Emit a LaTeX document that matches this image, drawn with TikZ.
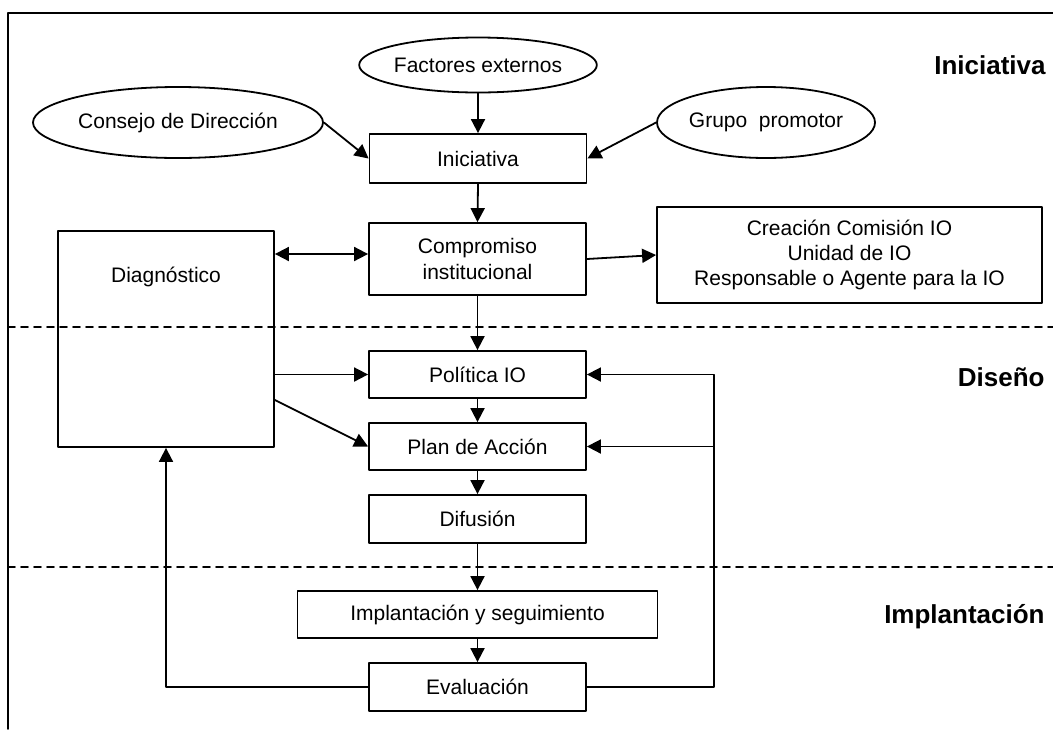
\documentclass[tikz,border=0pt]{standalone}
\usepackage{fontspec}
\setmainfont{Liberation Sans}
\usetikzlibrary{arrows.meta,shapes.geometric}

\begin{document}
\begin{tikzpicture}[line cap=round,line join=round,>={Triangle[length=7pt,width=7pt]},x=0.5pt,y=-0.5pt,
	every node/.style={font=\fontsize{10.5}{12.6}\selectfont},
	caja/.style={draw,line width=0.9pt,rectangle,inner sep=0pt,minimum width=108.5pt,minimum height=24pt,align=center},
	elipse/.style={draw,line width=0.9pt,ellipse,inner sep=0pt},
	fase/.style={anchor=east,inner sep=0pt,font=\fontsize{13}{15}\selectfont\bfseries},
	flecha/.style={->,line width=0.9pt}]
		\useasboundingbox (0,0) rectangle (1053,729);
		% marco y separacion de fases
		\draw [line width=0.9pt] (1053,13)-- (8,13)-- (8,729);
		\draw [line width=0.8pt,dash pattern=on 3.5pt off 3pt] (8,327)-- (1053,327);
		\draw [line width=0.8pt,dash pattern=on 3.5pt off 3pt] (8,567)-- (1053,567);
		% fases
		\node[fase] (tIni) at (1046,65) {Iniciativa};
		\node[fase] (tDis) at (1045,377) {Diseño};
		\node[fase] (tImp) at (1045,617) {Implantación};
		% origen de la iniciativa
		\node[elipse,minimum width=109pt,minimum height=27.5pt] (fact) at (478,65) {Factores externos};
		\node[elipse,minimum width=145pt,minimum height=35.5pt] (cons) at (178,122.5) {Consejo de Dirección};
		\node[elipse,minimum width=109pt,minimum height=35.5pt] (grup) at (766,122.5) {Grupo\ \ promotor};
		% columna central
		\node[caja,minimum height=24.5pt] (inic) at (478,158.5) {Iniciativa};
		\node[caja,minimum height=36pt] (comp) at (477.5,259) {Compromiso\\institucional};
		\node[caja,minimum width=192.5pt,minimum height=48pt] (crea) at (849.5,255) {Creación Comisión IO\\Unidad de IO\\Responsable o Agente para la IO};
		\node[caja,minimum width=108pt,minimum height=108pt,label={[anchor=center,yshift=-23.5pt]north:Diagnóstico}] (diag) at (166,339) {};
		\node[caja,minimum height=23.5pt] (pol) at (477.5,374.5) {Política IO};
		\node[caja,minimum height=23.5pt] (plan) at (477.5,446.5) {Plan de Acción};
		\node[caja] (dif) at (477.5,519) {Difusión};
		\node[caja,minimum width=180pt,minimum height=23.5pt] (impl) at (477.5,614.5) {Implantación y seguimiento};
		\node[caja] (eval) at (477.5,687) {Evaluación};
		\coordinate (ret) at (714,446.5);
		% conexiones
		\draw[flecha] (fact.south)-- (inic.north);
		\draw[flecha] (cons.east)-- (inic.west);
		\draw[flecha] (grup.west)-- (inic.east);
		\draw[flecha] (inic.south)-- (comp.north);
		\draw[flecha,<->] ([yshift=2.5pt]comp.west -| diag.east)-- ([yshift=2.5pt]comp.west);
		\draw[flecha] (comp.east)-- (crea.west);
		\draw[flecha] (comp.south)-- (pol.north);
		\draw[flecha] (pol.west -| diag.east)-- (pol.west);
		\draw[flecha] ([yshift=-30.5pt]diag.east)-- (plan.west);
		\draw[flecha] (pol.south)-- (plan.north);
		\draw[flecha] (plan.south)-- (dif.north);
		\draw[flecha] (dif.south)-- (impl.north);
		\draw[flecha] (impl.south)-- (eval.north);
		\draw[flecha] (eval.west) -| (diag.south);
		\draw[flecha] (eval.east) -| (ret) |- (pol.east);
		\draw[flecha] (ret)-- (plan.east);
\end{tikzpicture}
\end{document}
